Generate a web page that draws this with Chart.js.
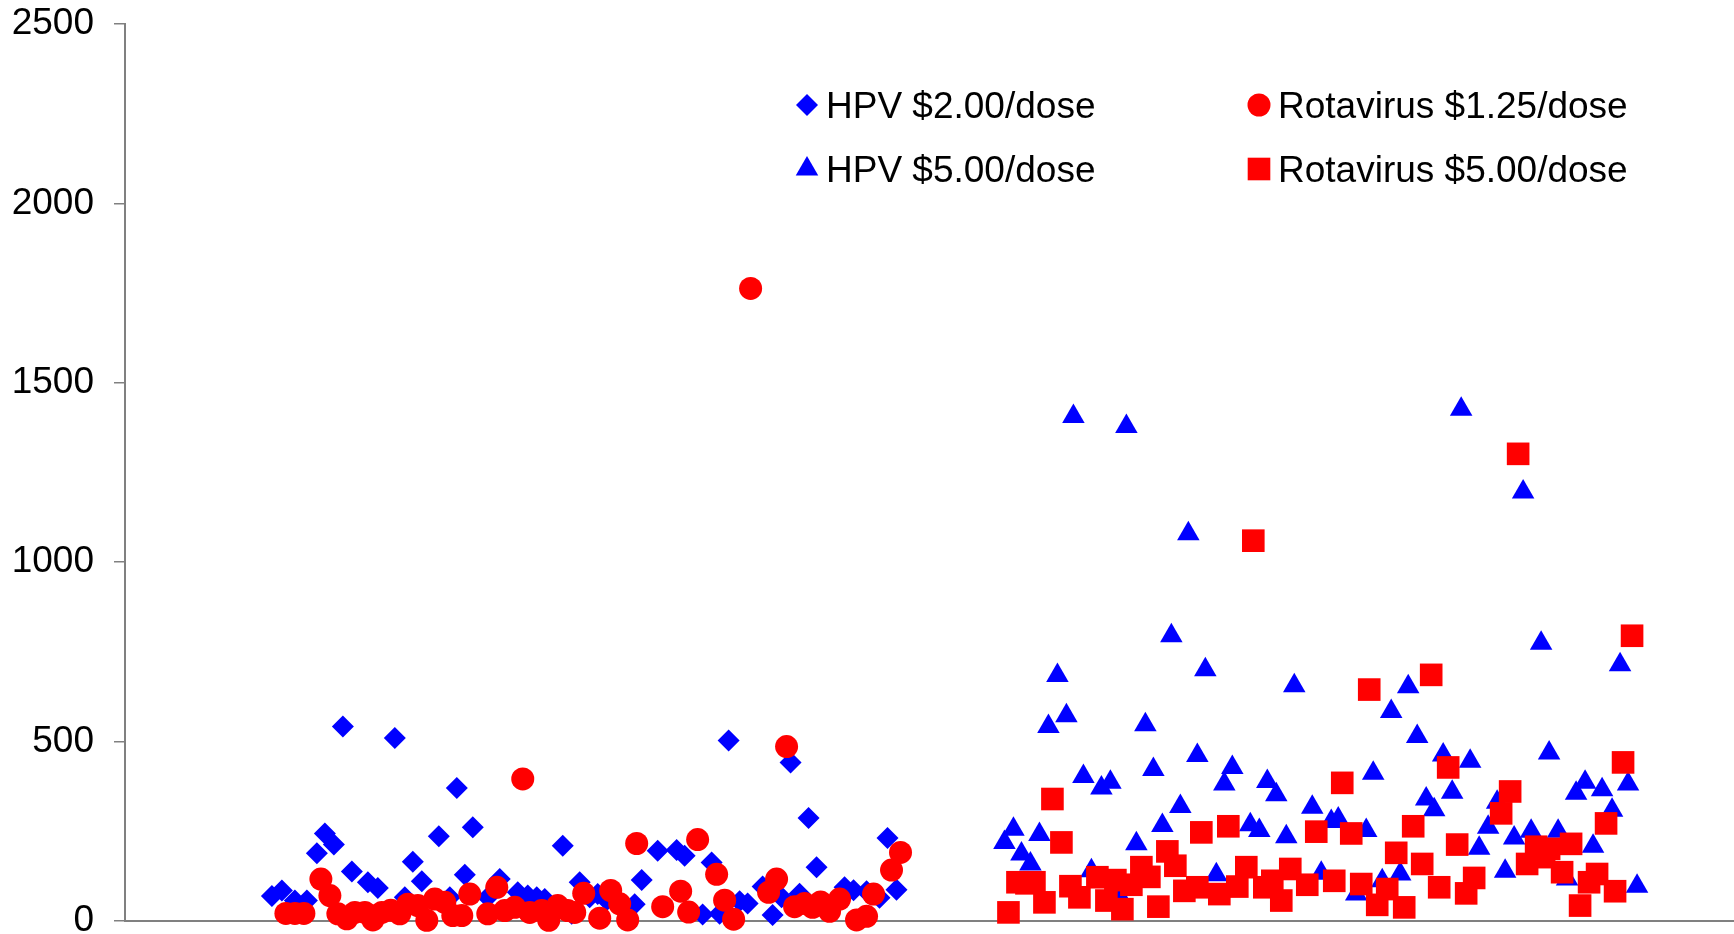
<!DOCTYPE html>
<html>
<head>
<meta charset="utf-8">
<script src="https://cdn.jsdelivr.net/npm/chart.js"></script>
<style>
  html, body { margin: 0; padding: 0; background: #fff; overflow: hidden; }
  #wrap { width: 1734px; height: 934px; position: relative; overflow: hidden; }
  #myChart { display: block; }
</style>
</head>
<body>
<div id="wrap"><canvas id="myChart" width="1734" height="934"></canvas></div>
<script>
	// series labels
	var seriesLabels = ['HPV $2.00/dose', 'HPV $5.00/dose', 'Rotavirus $1.25/dose', 'Rotavirus $5.00/dose'];

	// y axis ticks
	var yTicks = [0, 500, 1000, 1500, 2000, 2500];
	var xMax = 161;

	// HPV $2.00/dose : [x position, value]
	var hpv2 = [
		[14.7,70],[15.7,85],[17.0,57],[18.2,57],[19.2,189],[20.0,244],[20.9,213],[21.8,542],
		[22.7,138],[24.3,108],[25.3,92],[27.0,510],[28.0,66],[28.8,165],[29.7,111],[31.4,236],
		[32.5,66],[33.2,371],[34.0,129],[34.8,261],[36.3,66],[37.5,117],[39.3,80],[40.3,71],
		[41.2,66],[42.0,61],[43.8,210],[44.7,20],[45.5,108],[46.5,66],[47.3,75],[48.2,58],
		[51.0,47],[51.7,114],[53.3,196],[55.2,198],[56.0,182],[57.8,18],[58.7,163],[59.5,20],
		[60.4,503],[61.5,55],[62.3,49],[63.8,96],[64.8,17],[65.7,66],[66.6,442],[67.5,76],
		[68.4,287],[69.2,150],[72.0,94],[72.9,86],[74.2,83],[75.5,65],[76.3,231],[77.2,87]
	];

	// HPV $5.00/dose
	var hpv5 = [
		[88.0,219],[88.9,256],[89.7,187],[90.6,159],[91.5,241],[92.4,542],[93.3,684],[94.2,572],
		[94.9,1406],[95.9,403],[96.7,140],[97.7,371],[98.6,387],[99.3,80],[100.2,1378],[101.2,215],
		[102.1,547],[102.9,422],[103.8,266],[104.7,795],[105.6,319],[106.4,1079],[107.3,461],[108.1,700],
		[109.2,129],[110.0,382],[110.8,428],[112.6,268],[113.5,252],[114.3,389],[115.2,352],[116.2,235],
		[117.0,656],[118.8,317],[119.7,133],[120.7,277],[121.4,284],[123.2,75],[124.2,252],[124.9,412],
		[125.8,112],[126.7,584],[127.6,131],[128.4,653],[129.3,514],[130.2,340],[131.0,310],[131.9,463],
		[132.8,359],[133.7,1426],[134.6,445],[135.5,203],[136.4,261],[137.3,331],[138.1,139],[139.0,231],
		[139.9,1196],[140.7,250],[141.7,774],[142.5,468],[143.4,250],[144.3,117],[145.2,356],[146.1,387],
		[146.9,208],[147.8,366],[148.8,309],[149.6,714],[150.4,382],[151.3,97]
	];

	// Rotavirus $1.25/dose
	var rota125 = [
		[16.1,21],[17.0,21],[17.9,21],[19.6,117],[20.5,71],[21.3,20],[22.2,6],[23.0,24],
		[24.0,24],[24.8,3],[25.7,24],[26.6,30],[27.5,20],[28.3,47],[29.3,43],[30.2,2],
		[31.0,61],[32.0,52],[32.8,15],[33.7,15],[34.5,75],[36.3,20],[37.2,94],[38.0,29],
		[39.0,38],[39.8,396],[40.5,24],[41.7,29],[42.4,2],[43.3,43],[44.3,29],[45.0,24],
		[45.9,77],[47.5,8],[48.6,85],[49.5,48],[50.3,3],[51.2,216],[53.8,40],[55.6,83],
		[56.4,25],[57.3,227],[59.2,130],[60.0,58],[60.9,5],[62.6,1763],[64.4,80],[65.2,117],
		[66.2,486],[67.0,40],[68.0,49],[68.8,38],[69.6,53],[70.5,27],[71.5,61],[73.2,3],
		[74.2,13],[74.9,75],[76.7,142],[77.6,191]
	];

	// Rotavirus $5.00/dose
	var rota5 = [
		[88.4,24],[89.3,108],[90.2,105],[91.0,108],[92.0,52],[92.8,340],[93.7,219],[94.6,97],
		[95.5,66],[97.3,122],[98.2,57],[99.1,114],[99.8,33],[100.7,101],[101.7,150],[102.5,123],
		[103.4,40],[104.3,194],[105.1,154],[106.0,84],[107.3,94],[107.7,247],[109.5,75],[110.4,264],
		[111.3,96],[112.2,150],[112.9,1060],[114.0,94],[114.8,112],[115.7,57],[116.6,145],[118.3,101],
		[119.2,249],[121.0,112],[121.8,385],[122.7,244],[123.7,103],[124.5,645],[125.3,45],[126.3,89],
		[127.2,190],[128.0,38],[128.9,264],[129.8,159],[130.7,686],[131.5,94],[132.4,428],[133.3,213],
		[134.2,77],[135.0,120],[137.7,300],[138.6,361],[139.4,1302],[140.3,159],[141.2,207],[142.0,178],
		[142.5,201],[143.8,136],[144.7,215],[145.6,43],[146.5,108],[147.3,131],[148.2,272],[149.1,83],
		[149.9,442],[150.8,795]
	];

	function toPoints(list) {
		return list.map(function (p) { return { x: p[0], y: p[1] }; });
	}

	var font = '"Liberation Sans", Arial, sans-serif';

	// legend in two columns inside the plot
	var cornerLegend = {
		id: 'cornerLegend',
		afterDraw: function (chart, args, opts) {
			var ctx = chart.ctx;
			ctx.save();
			ctx.font = '37px ' + font;
			ctx.textBaseline = 'middle';
			ctx.textAlign = 'left';
			opts.slots.forEach(function (slot) {
				var ds = chart.data.datasets[slot.ds];
				ctx.fillStyle = ds.backgroundColor;
				Chart.helpers.drawPoint(ctx, {
					pointStyle: ds.pointStyle,
					radius: ds.pointRadius,
					rotation: 0,
					borderWidth: 0
				}, slot.x, slot.y);
				ctx.fillStyle = '#000';
				ctx.fillText(ds.label, slot.x + 19, slot.y + 3);
			});
			ctx.restore();
		}
	};

	var ctx = document.getElementById('myChart').getContext('2d');

	// first dataset is painted on top, so the red series come first
	window.chart_main = new Chart(ctx, {
		type: 'scatter',
		data: {
			datasets: [{
				label: seriesLabels[2],
				data: toPoints(rota125),
				backgroundColor: '#ff0000',
				pointStyle: 'circle',
				pointRadius: 11.5,
				pointBorderWidth: 0,
				clip: false
			}, {
				label: seriesLabels[3],
				data: toPoints(rota5),
				backgroundColor: '#ff0000',
				pointStyle: 'rect',
				pointRadius: 16,
				pointBorderWidth: 0,
				clip: false
			}, {
				label: seriesLabels[0],
				data: toPoints(hpv2),
				backgroundColor: '#0000ff',
				pointStyle: 'rectRot',
				pointRadius: 11,
				pointBorderWidth: 0,
				clip: false
			}, {
				label: seriesLabels[1],
				data: toPoints(hpv5),
				backgroundColor: '#0000ff',
				pointStyle: 'triangle',
				pointRadius: 13,
				pointBorderWidth: 0,
				clip: false
			}]
		},
		plugins: [cornerLegend],
		options: {
			responsive: false,
			animation: false,
			events: [],
			layout: { autoPadding: false, padding: { top: 24, right: 0, bottom: 0, left: 0 } },
			plugins: {
				legend: { display: false },
				tooltip: { enabled: false },
				cornerLegend: {
					slots: [
						{ ds: 2, x: 807, y: 105 },
						{ ds: 3, x: 807, y: 169 },
						{ ds: 0, x: 1259, y: 105 },
						{ ds: 1, x: 1259, y: 169 }
					]
				}
			},
			scales: {
				x: {
					type: 'linear',
					min: 0,
					max: xMax,
					afterFit: function (scale) { scale.height = 13; },
					ticks: { display: false },
					grid: { display: false, drawTicks: false },
					border: { display: true, color: '#808080', width: 2 }
				},
				y: {
					min: 0,
					max: 2500,
					afterFit: function (scale) {
						scale.width = 125;
						scale.paddingTop = 0;
						scale.paddingBottom = 0;
					},
					afterBuildTicks: function (scale) {
						scale.ticks = yTicks.map(function (v) { return { value: v }; });
					},
					ticks: {
						color: '#000',
						padding: 20,
						font: { family: font, size: 37 },
						callback: function (v) { return String(v); }
					},
					grid: { drawOnChartArea: false, tickLength: 11, color: '#808080', lineWidth: 1.5 },
					border: { display: true, color: '#808080', width: 2 }
				}
			}
		}
	});
</script>
</body>
</html>
